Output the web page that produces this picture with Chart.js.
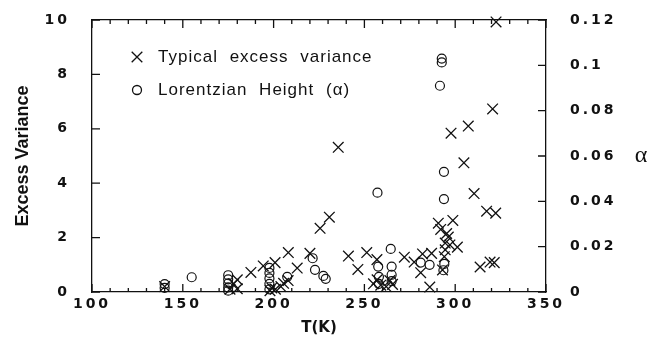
<!DOCTYPE html>
<html>
<head>
<meta charset="utf-8">
<script src="https://cdn.jsdelivr.net/npm/chart.js@4.4.1/dist/chart.umd.min.js"></script>
<style>
  html, body { margin: 0; padding: 0; background: #fff; }
  #wrap { width: 651px; height: 343px; }
</style>
</head>
<body>
<div id="wrap"><canvas id="canvas1" width="651" height="343"></canvas></div>
<script>
// typical excess variance (crosses), left axis
const varianceTemp = [140, 176, 178, 180, 180, 187.5, 194.3, 198, 199, 201, 200.8, 204, 205.5, 208, 208.1, 213, 220, 225.6, 230.7, 235.6,
  241.2, 246.4, 251.3, 256.9, 255, 257, 259, 262, 264, 265.5, 272, 277.4, 281, 282, 287, 286, 290.7, 292, 293, 294,
  294.5, 294.5, 295.3, 296.2, 297.1, 297.7, 298.7, 301.2, 304.8, 307.2, 310.4, 313.7, 317.3, 319.2, 320.6, 321.5, 322.5, 322.3];
const varianceVal = [0.2, 0.1, 0.3, 0.45, 0.12, 0.72, 0.96, 0.05, 0.15, 0.1, 1.08, 0.2, 0.32, 0.42, 1.45, 0.88, 1.42, 2.34, 2.75, 5.32,
  1.32, 0.83, 1.45, 1.19, 0.3, 0.45, 0.25, 0.2, 0.42, 0.28, 1.28, 1.1, 0.71, 1.4, 1.42, 0.18, 2.53, 2.3, 0.81, 1.3,
  1.55, 1.8, 2.15, 2.02, 1.73, 5.84, 2.63, 1.65, 4.75, 6.1, 3.62, 0.92, 2.97, 1.1, 6.73, 1.08, 9.93, 2.9];

// lorentzian height alpha (circles), right axis
const heightTemp = [140, 140, 154.9, 175, 175, 175, 175, 175, 197.7, 197.7, 197.7, 197.7, 197.7, 207.5, 221.5, 222.8, 227.4, 228.7,
  257.2, 257.6, 258, 258, 264.5, 265, 265, 265, 281, 285.9, 291.6, 292.6, 292.6, 293.8, 293.8, 294, 293.5];
const heightAlpha = [0.0035, 0.0018, 0.0065, 0.0074, 0.0056, 0.0038, 0.002, 0.0006, 0.0106, 0.0084, 0.006, 0.0036, 0.0012, 0.0067,
  0.0149, 0.0098, 0.0071, 0.0058, 0.0438, 0.0112, 0.0067, 0.0036, 0.019, 0.0112, 0.0076, 0.0048, 0.013, 0.012, 0.091,
  0.103, 0.1013, 0.053, 0.041, 0.0124, 0.0096];

const tempTicks = [100, 150, 200, 250, 300, 350];
const varianceTicks = [0, 2, 4, 6, 8, 10];
const alphaTicks = [0, 0.02, 0.04, 0.06, 0.08, 0.1, 0.12];
const minorTempStep = 10;

const ink = '#111';
const tickFont = { family: '"DejaVu Sans"', size: 14, weight: 'bold' };
const axisBorder = { display: true, color: ink, width: 1.3 };

function toPoints(xs, ys) {
  return xs.map((x, i) => ({ x: x, y: ys[i] }));
}

// no automatic label padding, the plot box is fixed
function noPad(s) {
  s.paddingTop = 0; s.paddingBottom = 0; s.paddingLeft = 0; s.paddingRight = 0;
}

// inward ticks on all four sides
function drawInwardTicks(chart) {
  const { ctx, chartArea: a, scales } = chart;
  ctx.save();
  ctx.setLineDash([]);
  ctx.globalAlpha = 1;
  ctx.strokeStyle = ink;
  ctx.lineWidth = 1.3;
  ctx.beginPath();
  for (let t = tempTicks[0]; t <= tempTicks[tempTicks.length - 1]; t += minorTempStep) {
    const px = scales.x.getPixelForValue(t);
    const len = (t % 50 === 0) ? 8 : 4;
    ctx.moveTo(px, a.bottom); ctx.lineTo(px, a.bottom - len);
    ctx.moveTo(px, a.top); ctx.lineTo(px, a.top + len);
  }
  varianceTicks.forEach(v => {
    const py = scales.y.getPixelForValue(v);
    ctx.moveTo(a.left, py); ctx.lineTo(a.left + 8, py);
  });
  alphaTicks.forEach(v => {
    const py = scales.y1.getPixelForValue(v);
    ctx.moveTo(a.right, py); ctx.lineTo(a.right - 8, py);
  });
  ctx.stroke();
  ctx.restore();
}

// letter spacing for tick labels, legend and alpha label
const decorations = {
  id: 'decorations',
  beforeDraw(chart) {
    chart.ctx.letterSpacing = '0px';
  },
  afterDatasetsDraw(chart) {
    // tick labels are drawn after this (ticks.z = 1)
    chart.ctx.letterSpacing = '3px';
  },
  afterDraw(chart) {
    const { ctx, chartArea: a } = chart;
    ctx.letterSpacing = '0px';
    drawInwardTicks(chart);
    ctx.save();
    ctx.letterSpacing = '1px';
    ctx.wordSpacing = '6px';
    ctx.fillStyle = ink;
    ctx.strokeStyle = ink;
    ctx.font = '17px "Liberation Sans"';
    ctx.textAlign = 'left';
    ctx.textBaseline = 'middle';
    const lx = a.left + 45, ly = a.top + 37;
    ctx.fillText('Typical excess variance', lx + 21, ly);
    ctx.fillText('Lorentzian Height (\u03b1)', lx + 21, ly + 33);
    ctx.lineWidth = 1.3;
    Chart.helpers.drawPoint(ctx, { pointStyle: 'crossRot', radius: 7.5, borderWidth: 1.3 }, lx, ly);
    ctx.fillStyle = 'rgba(0,0,0,0)';
    Chart.helpers.drawPoint(ctx, { pointStyle: 'circle', radius: 4.5, borderWidth: 1.2 }, lx, ly + 33);
    ctx.fillStyle = ink;
    ctx.letterSpacing = '0px';
    ctx.wordSpacing = '0px';
    ctx.font = '24px "Liberation Serif"';
    ctx.textAlign = 'center';
    ctx.fillText('\u03b1', chart.width - 10, (a.top + a.bottom) / 2);
    ctx.restore();
    ctx.letterSpacing = '0px';
  }
};

const data = {
  datasets: [
    {
      label: 'Typical excess variance',
      data: toPoints(varianceTemp, varianceVal),
      yAxisID: 'y',
      pointStyle: 'crossRot',
      pointRadius: 7.5,
      pointBorderWidth: 1.3,
      borderColor: ink,
      backgroundColor: ink,
      clip: false
    },
    {
      label: 'Lorentzian Height (\u03b1)',
      data: toPoints(heightTemp, heightAlpha),
      yAxisID: 'y1',
      pointStyle: 'circle',
      pointRadius: 4.5,
      pointBorderWidth: 1.2,
      borderColor: ink,
      backgroundColor: 'rgba(0,0,0,0)',
      clip: false
    }
  ]
};

const config = {
  type: 'scatter',
  data: data,
  plugins: [decorations],
  options: {
    responsive: false,
    animation: false,
    events: [],
    layout: { padding: { top: 20, left: 0, right: 0, bottom: 0 } },
    plugins: { legend: { display: false }, tooltip: { enabled: false } },
    scales: {
      x: {
        type: 'linear',
        min: 100,
        max: 350,
        afterBuildTicks: s => { s.ticks = tempTicks.map(v => ({ value: v })); },
        afterFit: s => { s.height = 51; noPad(s); },
        grid: { display: false },
        border: axisBorder,
        ticks: { z: 1, color: ink, font: tickFont, padding: -4, maxRotation: 0, autoSkip: false },
        title: {
          display: true,
          text: 'T(K)',
          color: ink,
          font: { family: '"DejaVu Sans"', size: 15, weight: 'bold' },
          padding: { top: 0, bottom: 6 }
        }
      },
      xTop: {
        type: 'linear',
        position: 'top',
        min: 100,
        max: 350,
        afterFit: s => { s.height = 0; noPad(s); },
        grid: { display: false },
        border: axisBorder,
        ticks: { display: false }
      },
      y: {
        type: 'linear',
        position: 'left',
        min: 0,
        max: 10,
        afterBuildTicks: s => { s.ticks = varianceTicks.map(v => ({ value: v })); },
        afterFit: s => { s.width = 92; noPad(s); },
        grid: { display: false },
        border: axisBorder,
        ticks: { z: 1, color: ink, font: tickFont, padding: 14 },
        title: {
          display: true,
          text: 'Excess Variance',
          color: ink,
          font: { family: '"Liberation Sans"', size: 18, weight: 'bold' },
          padding: { top: 12, bottom: 0 }
        }
      },
      y1: {
        type: 'linear',
        position: 'right',
        min: 0,
        max: 0.12,
        afterBuildTicks: s => { s.ticks = alphaTicks.map(v => ({ value: v })); },
        afterFit: s => { s.width = 105; noPad(s); },
        grid: { display: false },
        border: axisBorder,
        ticks: {
          z: 1,
          color: ink,
          font: tickFont,
          padding: 16,
          callback: v => String(Math.round(v * 100) / 100)
        }
      }
    }
  }
};

const myChart = new Chart(document.getElementById('canvas1'), config);
</script>
</body>
</html>
